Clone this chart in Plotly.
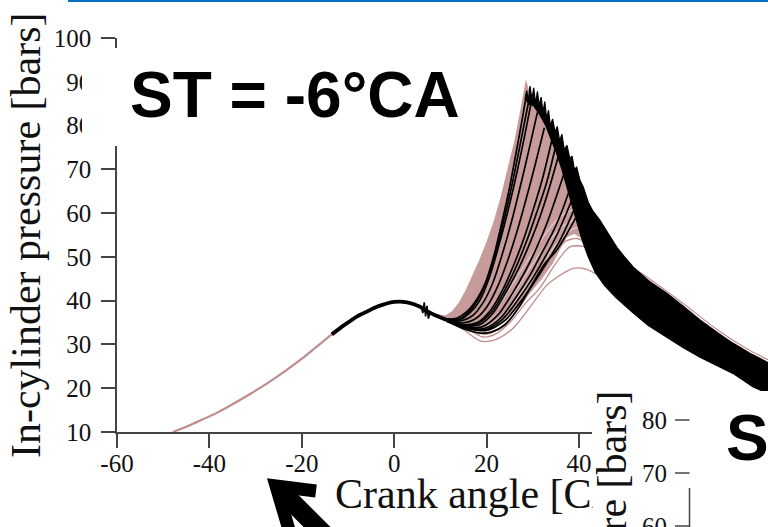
import plotly.graph_objects as go

W, H = 768, 527

# ---- compression stroke (shared by all cycles) ----
ca_comp = [-47.9, -45, -42, -38, -34.9, -31, -27.5, -24, -20.4, -17, -13.5, -11,
           -9.6, -8, -5.9, -4, -2.4, 0, 2.8, 5.6, 7.1, 9, 11.4]
p_comp = [10.0, 11.2, 12.6, 14.6, 16.4, 18.8, 21.1, 23.6, 26.4, 29.3, 32.3, 34.3,
          35.3, 36.4, 37.5, 38.5, 39.1, 39.7, 39.6, 38.6, 37.6, 36.6, 35.6]
knock_start = -13.5  # knocking cycles drawn in black from here on

# ---- dense envelope of the non-knocking cycles ----
env_ca = [9, 11, 12.5, 14, 15.5, 17, 18.5, 20, 21.5, 23, 24.5, 26, 27.2, 28.0, 28.5,
          29.5, 31, 33, 35, 37, 39, 41, 42.5, 43,
          41, 39, 37.4, 35.8, 34.4, 32, 30, 28, 26, 24, 22, 20, 18, 16, 14, 12, 9]
env_p = [37.0, 36.6, 37.6, 39.6, 42.5, 46, 49.5, 53.5, 58, 63.5, 70, 76.5, 83, 87.5, 90.6,
         87, 85, 81, 77, 73, 68, 63, 59, 55,
         54, 55.2, 54.5, 51.5, 48.6, 45, 42.4, 40, 37.6, 35.6, 34.3, 33.6, 33.6, 34.0, 34.6, 35.3, 37.0]

# ---- lighter non-knocking cycles inside the envelope ----
light_cycles = [
    ([18, 22, 26, 30, 34, 37, 39.5], [34.5, 38, 44.5, 51, 57, 60, 61]),
    ([19, 23, 27, 31, 35, 38, 40.5], [34, 37.5, 43.5, 50, 55.5, 58, 58.5]),
    ([20, 24, 28, 32, 36, 39, 41.5], [34, 37, 42.5, 48.5, 54, 56.5, 56.5]),
]

# ---- slow-burning cycles below the envelope ----
slow_cycles = [
    ([12, 15, 18.6, 21, 23, 26, 30, 33, 35.9, 38.7, 41.5, 44.5],
     [35.4, 33.4, 30.8, 30.8, 31.6, 34.0, 39.4, 43.5, 45.8, 47.4, 47.2, 45.6]),
    ([14, 16, 19.2, 22, 25, 28.5, 31.6, 34, 36, 38, 40.9, 43],
     [34.6, 33.5, 31.7, 32.4, 35, 39.5, 43, 47, 50, 52.3, 52.4, 51]),
    ([14, 16, 19.5, 22.5, 26, 29, 32, 34.5, 37, 39.6, 42],
     [34.6, 33.8, 32.3, 33.5, 37, 41.5, 46.5, 50.5, 53.5, 54.2, 53]),
]

# ---- knocking cycles (combustion phase up to the pressure ridge) ----
knock_cycles = [
    ([11.4, 13.5, 16, 18, 19.7, 21.5, 23, 24.8, 26.6, 27.8, 28.7],
     [35.8, 36.0, 37.8, 40.5, 44, 50, 56.5, 65, 75, 82, 87.5]),
    ([11.4, 14, 16.2, 18.2, 20, 22, 24, 25.8, 27.6, 29.2],
     [35.8, 35.8, 37.5, 40.3, 44.5, 51, 59.5, 68, 77.5, 86]),
    ([11.4, 14, 16.5, 18.5, 20.5, 22.5, 24.5, 26.5, 28.3, 29.6],
     [35.7, 35.6, 37.3, 40, 45, 52, 60, 69, 78, 85]),
    ([11.4, 14, 17, 19.5, 21.5, 23.5, 25.5, 27.5, 29.5, 31],
     [35.6, 35.3, 36.6, 40, 44.5, 51, 58.5, 67, 76, 83]),
    ([11.4, 14.5, 17.5, 20, 22.5, 24.5, 26.5, 28.5, 30.5, 32.5],
     [35.6, 34.9, 35.8, 38.5, 43.5, 49, 55.5, 63, 71, 79.5]),
    ([11.4, 15, 18, 21, 23.5, 26, 28, 30, 32, 34.2],
     [35.5, 34.5, 35, 38, 42.5, 48.5, 54, 60.5, 67.5, 77]),
    ([11.4, 15, 18.2, 21.2, 24, 26.5, 28.8, 30.8, 33, 35],
     [35.5, 34.4, 34.8, 37.6, 42.5, 48, 54, 60, 67, 75.5]),
    ([11.4, 15, 18.5, 21.5, 24.5, 27, 29.5, 31.5, 33.5, 35.8],
     [35.5, 34.3, 34.5, 37.3, 42.5, 47.5, 53.5, 59, 65.5, 74]),
    ([11.4, 15.5, 19, 22.5, 25.5, 28.5, 31, 33, 35, 37.2],
     [35.4, 34, 34, 36.8, 41.5, 47, 52.5, 57.5, 63.5, 70.5]),
    ([11.4, 16, 19.5, 23, 26.5, 29.5, 32, 34.5, 36.5, 38.5],
     [35.4, 33.8, 33.6, 36, 41, 46, 51, 56, 61, 67]),
    ([11.4, 16, 19.8, 23.5, 27, 30, 32.8, 35.2, 37.2, 39.2],
     [35.3, 33.7, 33.4, 35.8, 40.5, 45.2, 50.2, 55, 59.8, 65]),
    ([11.4, 16, 20, 24, 27.5, 30.5, 33.5, 36, 38, 40],
     [35.3, 33.6, 33.2, 35.5, 40, 44.5, 49.5, 54, 58.5, 63.5]),
    ([11.4, 15, 18.6, 21, 24, 27, 30, 32.5, 35.2, 37.5, 39.6, 41],
     [35.3, 33.6, 32.6, 32.8, 34.5, 38.5, 44, 48.3, 51.6, 55.5, 59.5, 62]),
]

# pressure ringing right after top dead centre
ring_ca = [5.8, 6.2, 6.5, 6.8, 7.1, 7.4, 7.8]
ring_p = [38.6, 37.2, 39.6, 36.4, 38.8, 35.9, 37.4]

# ---- knocking band during expansion (upper edge, then lower edge back) ----
band_ca = [28.3, 28.7, 29.0, 29.4, 29.8, 30.2, 30.6, 31.0, 31.4, 31.8, 32.2, 32.6, 33.0,
           33.4, 33.8, 34.3, 34.8, 35.3, 35.8, 36.3, 36.8, 37.4, 38.0, 38.5, 39.0, 39.5,
           40.2, 40.9, 42, 43, 44.5, 46.5, 48.2, 50, 51.7, 55, 59, 62.5, 66.2, 70, 73.3, 77, 81,
           81, 77.7, 73.3, 70, 66.2, 62.5, 59, 55, 51.7, 48, 45.5, 43.5, 42, 40.8, 39.8,
           39, 38.2, 37.3, 36.3, 35.2, 34, 32.8, 31.5, 30.2, 29]
band_p = [86, 88, 85.5, 89, 86, 88.6, 85, 87.8, 84.5, 86.5, 83, 85.5, 81.5,
          83.5, 80, 81.5, 78.5, 79.8, 76.5, 78, 74.5, 75.5, 72.5, 73, 70, 70.5,
          67.5, 66, 62.5, 60.5, 58.4, 55, 52.2, 49.8, 47.7, 44.6, 41.7, 38.8, 35.6, 32.7, 30.3, 28.0, 25.8,
          18.8, 20.3, 23.4, 25.1, 27.1, 29.3, 31.6, 34.3, 37.2, 40.7, 43.5, 46.5, 50, 53.5, 57,
          60, 63, 66.5, 70, 73.5, 77, 80, 82.5, 84.5, 85]

# one non-knocking cycle showing along the top of the band
edge_ca = [50, 55, 62.5, 70, 77, 81]
edge_p = [48.6, 45.2, 39.4, 33.3, 28.6, 26.5]

x_ticks = [-60, -40, -20, 0, 20, 40, 60, 80]
y_ticks = [10, 20, 30, 40, 50, 60, 70, 80, 90, 100]
y2_ticks = [80, 70, 60]

PINK_FILL = "rgb(200,155,155)"
PINK_LINE = "rgb(190,140,140)"
PINK_LIGHT = "rgb(224,198,198)"
AXIS = "#444444"
TEXT = "#111111"
SERIF = "Liberation Serif"
SANS = "Liberation Sans"


def px(x):
    return x / W


def py(y):
    return 1 - y / H


fig = go.Figure()
common = dict(mode="lines", hoverinfo="skip", showlegend=False)
smooth = dict(shape="spline", smoothing=0.8)

fig.add_trace(go.Scatter(x=env_ca, y=env_p, fill="toself", fillcolor=PINK_FILL,
                         line=dict(width=0, color=PINK_FILL), **common))
for cx, cy in light_cycles:
    fig.add_trace(go.Scatter(x=cx, y=cy, line=dict(width=1.2, color=PINK_LIGHT, **smooth), **common))
for cx, cy in slow_cycles:
    fig.add_trace(go.Scatter(x=cx, y=cy, line=dict(width=1.3, color=PINK_LINE, **smooth), **common))
fig.add_trace(go.Scatter(x=ca_comp, y=p_comp, line=dict(width=2.2, color=PINK_LINE, **smooth), **common))
fig.add_trace(go.Scatter(x=edge_ca, y=edge_p, line=dict(width=1.2, color=PINK_LINE, **smooth), **common))

i0 = next(i for i, c in enumerate(ca_comp) if c >= knock_start)
fig.add_trace(go.Scatter(x=ca_comp[i0:], y=p_comp[i0:],
                         line=dict(width=3.8, color="black", **smooth), **common))
fig.add_trace(go.Scatter(x=ring_ca, y=ring_p, line=dict(width=1.6, color="black"), **common))
for cx, cy in knock_cycles:
    fig.add_trace(go.Scatter(x=cx, y=cy, line=dict(width=1.7, color="black", **smooth), **common))
fig.add_trace(go.Scatter(x=band_ca, y=band_p, fill="toself", fillcolor="black",
                         line=dict(width=1.2, color="black"), **common))

# ---- panel overlays ----
shapes = [
    # rule along the top of the page
    dict(type="line", xref="paper", yref="paper", x0=px(68), x1=px(768), y0=py(1), y1=py(1),
         line=dict(color="#0070C0", width=2)),
    # backing of the large spark-timing label
    dict(type="rect", xref="paper", yref="paper", x0=px(82), x1=px(490), y0=py(146), y1=py(48),
         fillcolor="white", line=dict(width=0)),
    # neighbouring panel
    dict(type="rect", xref="paper", yref="paper", x0=px(592), x1=px(770), y0=py(530), y1=py(391),
         fillcolor="white", line=dict(width=0)),
    dict(type="line", xref="paper", yref="paper", x0=px(689.5), x1=px(689.5), y0=py(488), y1=py(530),
         line=dict(color=AXIS, width=1.5)),
]
# neighbouring panel ticks: 80 at 420 px, 53 px per 10 bar
for v in y2_ticks:
    yy = 420 + (80 - v) * 5.3
    shapes.append(dict(type="line", xref="paper", yref="paper", x0=px(675), x1=px(689.5),
                       y0=py(yy), y1=py(yy), line=dict(color=AXIS, width=1.5)))


def path(pts):
    return "M " + " L ".join(f"{px(a):.5f},{py(b):.5f}" for a, b in pts)


shapes += [
    dict(type="path", xref="paper", yref="paper", path=path([(316, 491), (276, 486), (292, 540)]),
         line=dict(color="black", width=13)),
    dict(type="path", xref="paper", yref="paper", path=path([(280, 490), (345, 555)]),
         line=dict(color="black", width=19)),
]
for s in shapes:
    s["layer"] = "above"

annotations = [
    dict(text="In-cylinder pressure [bars]", x=px(26), y=py(236), textangle=-90,
         font=dict(family=SERIF, size=42, color=TEXT)),
    dict(text="Crank angle [CA]", x=px(333), y=py(494), xanchor="left",
         font=dict(family=SERIF, size=42, color=TEXT)),
    dict(text="\u00a0", x=px(592), y=py(494), xanchor="left", width=80, height=50,
         bgcolor="white", borderpad=0),
    dict(text="In-cylinder pressure [bars]", x=px(612), y=py(614), textangle=-90,
         font=dict(family=SERIF, size=42, color=TEXT)),
    dict(text="ST = -6°CA", x=px(128), y=py(95), xanchor="left",
         font=dict(family=SANS, size=64, color="black", weight="bold")),
    dict(text="ST", x=px(724), y=py(438), xanchor="left",
         font=dict(family=SANS, size=64, color="black", weight="bold")),
]
for v in y2_ticks:
    yy = 420 + (80 - v) * 5.3
    annotations.append(dict(text=str(v), x=px(669), y=py(yy), xanchor="right",
                            font=dict(family=SERIF, size=25, color=TEXT)))
for a in annotations:
    a.update(xref="paper", yref="paper", showarrow=False)
    a.setdefault("xanchor", "center")
    a.setdefault("yanchor", "middle")

fig.update_layout(
    template="none",
    width=W, height=H, autosize=False,
    margin=dict(l=0, r=0, t=0, b=0, pad=0),
    paper_bgcolor="white", plot_bgcolor="white",
    showlegend=False,
    xaxis=dict(domain=[px(117), 1], range=[-60, -60 + (W - 117) / 4.62],
               tickvals=x_ticks, ticktext=[str(v) for v in x_ticks],
               ticks="outside", ticklen=14, tickwidth=1.5, tickcolor=AXIS,
               showline=True, linecolor=AXIS, linewidth=1.5, showgrid=False, zeroline=False,
               tickfont=dict(family=SERIF, size=25, color=TEXT), ticklabelstandoff=-6,
               automargin=False, fixedrange=True),
    yaxis=dict(domain=[py(432), py(38)], range=[10, 100],
               tickvals=y_ticks, ticktext=[str(v) for v in y_ticks],
               ticks="outside", ticklen=14, tickwidth=1.5, tickcolor=AXIS,
               showline=True, linecolor=AXIS, linewidth=1.5, showgrid=False, zeroline=False,
               tickfont=dict(family=SERIF, size=25, color=TEXT), ticklabelstandoff=5,
               automargin=False, fixedrange=True),
    shapes=shapes,
    annotations=annotations,
)

fig.write_html("out.html")
